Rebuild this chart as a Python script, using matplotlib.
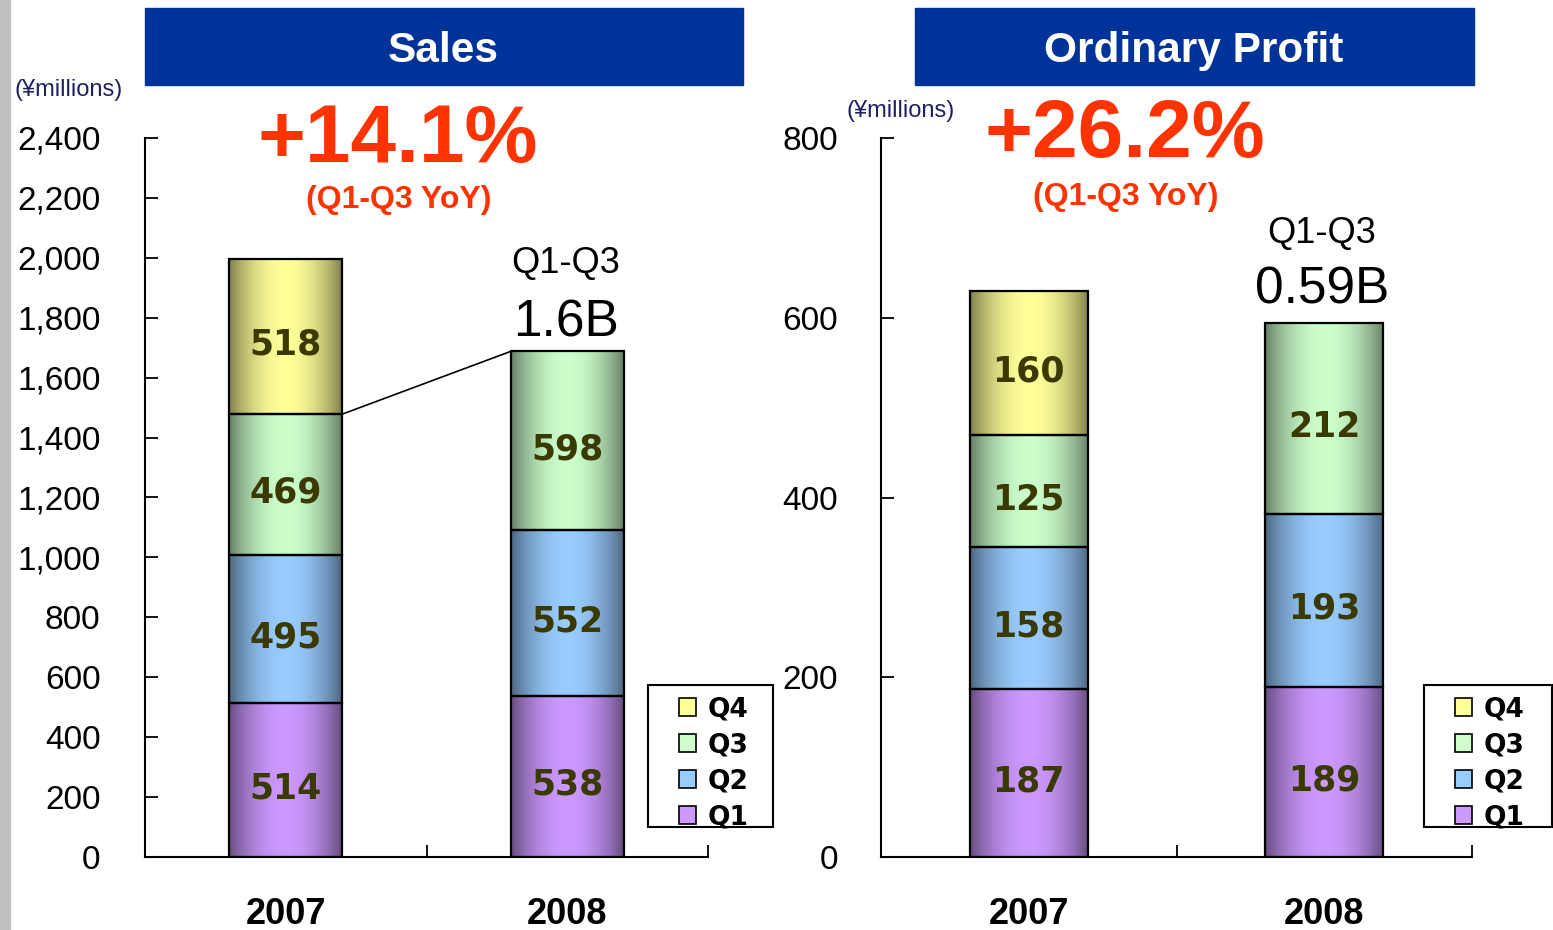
import numpy as np
import matplotlib
matplotlib.use("Agg")
import matplotlib.pyplot as plt
from matplotlib.patches import Rectangle, Patch
from matplotlib.colors import to_rgb

plt.rcParams['font.family'] = ['Liberation Sans', 'DejaVu Sans']

# ---------------- data ----------------
years = ["2007", "2008"]
quarters = ["Q1", "Q2", "Q3", "Q4"]
sales_2007 = [514, 495, 469, 518]
sales_2008 = [538, 552, 598]
profit_2007 = [187, 158, 125, 160]
profit_2008 = [189, 193, 212]
sales_ticks = [0, 200, 400, 600, 800, 1000, 1200, 1400, 1600, 1800, 2000, 2200, 2400]
profit_ticks = [0, 200, 400, 600, 800]
sales_title = "Sales"
profit_title = "Ordinary Profit"
sales_growth = "+14.1%"
profit_growth = "+26.2%"
growth_note = "(Q1-Q3 YoY)"
sales_q13_total = "1.6B"
profit_q13_total = "0.59B"
unit_label = "(¥millions)"

q_colors = {"Q1": "#CC99FF", "Q2": "#99CCFF", "Q3": "#CCFFCC", "Q4": "#FFFF99"}

W, H = 1553, 930
fig = plt.figure(figsize=(W / 100, H / 100), dpi=100)


def fx(px):
    return px / W


def fy(py):
    return 1 - py / H


def gradient_bar(ax, x, bottom, height, width, color):
    rgb = np.array(to_rgb(color))
    n = 200
    t = np.linspace(0, 1, n)
    s = np.clip(np.sin(np.pi * t), 0, 1) ** 0.8
    f = 0.48 + 0.52 * s
    img = (rgb[None, :] * f[:, None])[None, :, :]
    bars = ax.bar(x, height, width, bottom=bottom, facecolor='none',
                  edgecolor='black', linewidth=1.6, zorder=3)
    patch = bars[0]
    im = ax.imshow(img, extent=(x - width / 2, x + width / 2, bottom, bottom + height),
                   aspect='auto', zorder=2, interpolation='bilinear')
    im.set_clip_path(patch)
    return patch


def make_panel(left_px, right_px, ymax, ticks, vals07, vals08, label_pad):
    ax = fig.add_axes([fx(left_px), fy(857), fx(right_px) - fx(left_px), fy(138) - fy(857)])
    bw = 0.4
    for xi, vals in enumerate([vals07, vals08]):
        bottom = 0
        for q, v in zip(quarters, vals):
            gradient_bar(ax, xi, bottom, v, bw, q_colors[q])
            ax.annotate(f"{v}", (xi, bottom + v / 2), xytext=(0, -6),
                        textcoords='offset points', ha='center', va='center',
                        fontsize=25, fontweight='bold', color='#3a3a00', zorder=4,
                        family='DejaVu Sans')
            bottom += v
    ax.set_xlim(-0.5, 1.5)
    ax.set_ylim(0, ymax)
    ax.set_yticks(ticks)
    ax.set_yticklabels([f"{t:,}" for t in ticks], fontsize=24)
    ax.tick_params(axis='y', direction='in', length=9, width=1.3, pad=label_pad)
    ax.set_xticks([0.5, 1.5])
    ax.set_xticklabels([])
    ax.set_xticks([0, 1], minor=True)
    ax.set_xticklabels(years, minor=True, fontsize=26, fontweight='bold')
    ax.tick_params(axis='x', which='major', direction='in', length=9, width=1.3)
    ax.tick_params(axis='x', which='minor', length=0, pad=29)
    for sp in ['top', 'right']:
        ax.spines[sp].set_visible(False)
    for sp in ['left', 'bottom']:
        ax.spines[sp].set_linewidth(1.5)
    ax.set_facecolor('none')
    return ax


ax1 = make_panel(145, 708, 2400, sales_ticks, sales_2007, sales_2008, 32)
ax2 = make_panel(881, 1472, 800, profit_ticks, profit_2007, profit_2008, 31)

# connector line (left panel)
ax1.plot([0.2, 0.8], [sum(sales_2007[:3]), sum(sales_2008)], color='black', lw=1.2, zorder=5)

# background decorations
fig.patches.append(Rectangle((0, 0), fx(10), 1, transform=fig.transFigure,
                             color='#C0C0C0', zorder=0))
for x0, x1, title, cx in [(145, 743, sales_title, 443), (915, 1474, profit_title, 1194)]:
    fig.patches.append(Rectangle((fx(x0), fy(85)), fx(x1) - fx(x0), fy(8) - fy(85),
                                 transform=fig.transFigure, color='#003399', zorder=1))
    fig.text(fx(cx), fy(51), title, ha='center', va='center', color='white',
             fontsize=30.5, fontweight='bold')

red = '#FF3300'
fig.text(fx(398), fy(162), sales_growth, ha='center', va='baseline', color=red,
         fontsize=59, fontweight='bold')
fig.text(fx(399), fy(208), growth_note, ha='center', va='baseline', color=red,
         fontsize=23, fontweight='bold')
fig.text(fx(1125), fy(157), profit_growth, ha='center', va='baseline', color=red,
         fontsize=59, fontweight='bold')
fig.text(fx(1126), fy(205), growth_note, ha='center', va='baseline', color=red,
         fontsize=23, fontweight='bold')

fig.text(fx(566), fy(273), "Q1-Q3", ha='center', va='baseline', fontsize=26)
fig.text(fx(566), fy(336), sales_q13_total, ha='center', va='baseline', fontsize=37)
fig.text(fx(1322), fy(243), "Q1-Q3", ha='center', va='baseline', fontsize=26)
fig.text(fx(1322), fy(303), profit_q13_total, ha='center', va='baseline', fontsize=37)

fig.text(fx(69), fy(96), unit_label, ha='center', va='baseline', fontsize=17, color='#202060')
fig.text(fx(901), fy(117), unit_label, ha='center', va='baseline', fontsize=17, color='#202060')

# legends
handles = [Patch(facecolor=q_colors[q], edgecolor='black', linewidth=1.2, label=q)
           for q in reversed(quarters)]
for bx0, bx1, hx in [(648, 773, 679), (1424, 1552, 1455)]:
    fig.patches.append(Rectangle((fx(bx0), fy(827)), fx(bx1) - fx(bx0), fy(685) - fy(827),
                                 transform=fig.transFigure, facecolor='white',
                                 edgecolor='black', linewidth=1.5, zorder=6))
    leg = fig.legend(handles=handles, loc='upper left', bbox_to_anchor=(fx(hx), fy(696)),
                     bbox_transform=fig.transFigure, frameon=False, borderpad=0,
                     borderaxespad=0, handlelength=0.65, handleheight=0.65,
                     handletextpad=0.45, labelspacing=0.38,
                     prop={'size': 19, 'weight': 'bold', 'family': 'DejaVu Sans'})
    leg.set_zorder(7)

fig.savefig("out.png", dpi=100, facecolor='white')
